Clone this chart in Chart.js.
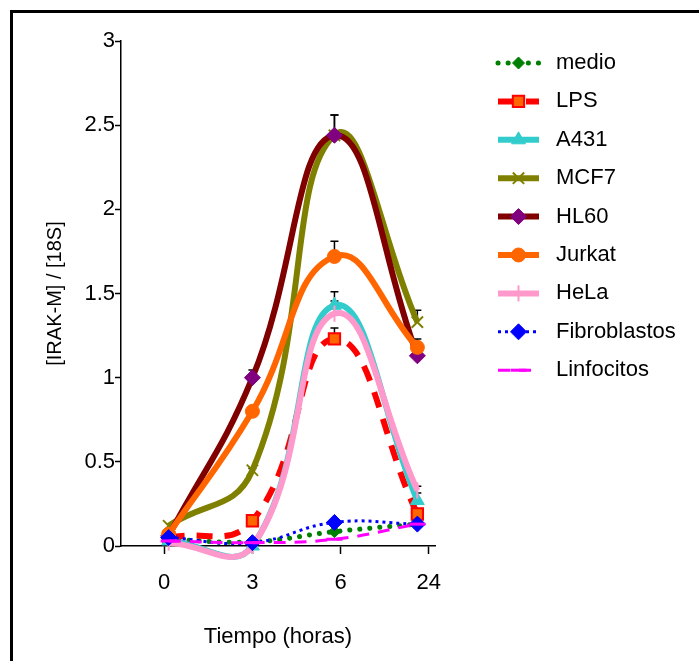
<!DOCTYPE html>
<html>
<head>
<meta charset="utf-8">
<script src="https://cdn.jsdelivr.net/npm/chart.js@4.4.1/dist/chart.umd.min.js"></script>
<style>
  html, body { margin: 0; padding: 0; background: #fff; overflow: hidden; }
  #frame { position: absolute; left: 10px; top: 10px; width: 760px; height: 720px; border: 3px solid #000; }
  #c { position: absolute; left: 0; top: 0; }
</style>
</head>
<body>
<div id="frame"></div>
<canvas id="c" width="699" height="661"></canvas>
<script>
// sampling times shown under the x axis
const timeLabels = ['0', '3', '6', '24'];
// where each sampling time sits on the x axis (points are a bit off the ticks in the original)
const timePos = [0.05, 1.0, 1.93, 2.87];

const seriesNames = ['medio', 'LPS', 'A431', 'MCF7', 'HL60', 'Jurkat', 'HeLa', 'Fibroblastos', 'Linfocitos'];

// [IRAK-M] / [18S] at 0, 3, 6, 24 h
const medio        = [0.04, 0.025, 0.085, 0.13];
const lps          = [0.05, 0.15, 1.23, 0.19];
const a431         = [0.03, 0.0, 1.43, 0.27];
const mcf7         = [0.12, 0.45, 2.44, 1.33];
const hl60         = [0.06, 1.0, 2.44, 1.13];
const jurkat       = [0.07, 0.8, 1.72, 1.18];
const hela         = [0.02, 0.0, 1.38, 0.33];
const fibroblastos = [0.05, 0.02, 0.14, 0.13];
const linfocitos   = [0.03, 0.02, 0.04, 0.13];

// top of each error bar, null where none is drawn
const medioErr        = [null, null, null, null];
const lpsErr          = [null, null, 1.295, null];
const a431Err         = [null, null, 1.51, 0.315];
const mcf7Err         = [null, 0.46, 2.56, 1.40];
const hl60Err         = [null, 1.045, 2.56, null];
const jurkatErr       = [null, null, 1.81, 1.23];
const helaErr         = [null, null, 1.455, 0.355];
const fibroblastosErr = [null, null, null, null];
const linfocitosErr   = [null, null, null, null];

const seriesValues = [medio, lps, a431, mcf7, hl60, jurkat, hela, fibroblastos, linfocitos];
const seriesErr = [medioErr, lpsErr, a431Err, mcf7Err, hl60Err, jurkatErr, helaErr, fibroblastosErr, linfocitosErr];

// line + marker look of every series
const styles = [
  { color: '#008000', fill: '#008000', width: 5, dash: [0.1, 10], cap: 'round', point: 'rectRot', radius: 6, pbw: 1 },
  { color: '#ff0000', fill: '#ff6600', width: 6, dash: [16, 12], point: 'rect', radius: 8, pbw: 2 },
  { color: '#33cccc', fill: '#33cccc', width: 6, dash: [], point: 'triangle', radius: 8, pbw: 1 },
  { color: '#808000', fill: '#808000', width: 6, dash: [], point: 'crossRot', radius: 8, pbw: 2 },
  { color: '#800000', fill: '#800080', width: 6, dash: [], point: 'rectRot', radius: 8, pbw: 1, pcolor: '#800080' },
  { color: '#ff6600', fill: '#ff6600', width: 6, dash: [], point: 'circle', radius: 7, pbw: 1 },
  { color: '#ff99cc', fill: '#ff99cc', width: 6, dash: [], point: 'line', radius: 8, rot: 90, pbw: 2 },
  { color: '#0000ff', fill: '#0000ff', width: 3, dash: [3, 4], point: 'rectRot', radius: 8, pbw: 1 },
  { color: '#ff00ff', fill: '#ff00ff', width: 3, dash: [12, 9], point: 'line', radius: 8, pbw: 3 }
];

const FONT = '"Liberation Sans", Arial, Helvetica, sans-serif';

const datasets = seriesNames.map((name, i) => {
  const s = styles[i];
  return {
    label: name,
    data: seriesValues[i].map((v, j) => ({ x: timePos[j], y: v })),
    borderColor: s.color,
    backgroundColor: s.fill,
    borderWidth: s.width,
    borderDash: s.dash,
    borderCapStyle: s.cap || 'butt',
    pointStyle: s.point,
    pointRadius: s.radius,
    pointHoverRadius: s.radius,
    pointRotation: s.rot || 0,
    pointBorderWidth: s.pbw,
    pointBorderColor: s.pcolor || s.color,
    pointBackgroundColor: s.fill,
    tension: 0.45,
    capBezierPoints: false,
    clip: false,
    order: seriesNames.length - i   // later series on top, like the original
  };
});

// black error bar caps, drawn under the lines
const errorBars = {
  id: 'errorBars',
  beforeDatasetsDraw(chart) {
    const ctx = chart.ctx;
    const yScale = chart.scales.y;
    ctx.save();
    ctx.strokeStyle = '#000';
    ctx.lineWidth = 1.5;
    chart.data.datasets.forEach((ds, i) => {
      const meta = chart.getDatasetMeta(i);
      seriesErr[i].forEach((top, j) => {
        if (top == null) return;
        const pt = meta.data[j];
        const yTop = yScale.getPixelForValue(top);
        ctx.beginPath();
        ctx.moveTo(pt.x, pt.y);
        ctx.lineTo(pt.x, yTop);
        ctx.moveTo(pt.x - 4, yTop);
        ctx.lineTo(pt.x + 4, yTop);
        ctx.stroke();
      });
    });
    ctx.restore();
  }
};

// legend on the right: line sample with marker, then the name
const sideLegend = {
  id: 'sideLegend',
  afterDraw(chart) {
    const ctx = chart.ctx;
    const x0 = chart.chartArea.right + 63;
    const len = 41;
    const y0 = chart.chartArea.top + 22;
    const step = 38.4;
    chart.data.datasets.forEach((ds, i) => {
      const yy = y0 + i * step;
      ctx.save();
      ctx.strokeStyle = ds.borderColor;
      ctx.lineWidth = ds.borderWidth;
      ctx.setLineDash(ds.borderDash);
      ctx.lineCap = ds.borderCapStyle;
      ctx.beginPath();
      ctx.moveTo(x0, yy);
      ctx.lineTo(x0 + len, yy);
      ctx.stroke();
      ctx.setLineDash([]);
      ctx.lineCap = 'butt';
      ctx.fillStyle = ds.pointBackgroundColor;
      ctx.strokeStyle = ds.pointBorderColor;
      ctx.lineWidth = ds.pointBorderWidth;
      Chart.helpers.drawPoint(ctx, {
        pointStyle: ds.pointStyle,
        radius: ds.pointRadius,
        rotation: ds.pointRotation,
        borderWidth: ds.pointBorderWidth
      }, x0 + len / 2, yy);
      ctx.fillStyle = '#000';
      ctx.font = '22px ' + FONT;
      ctx.textBaseline = 'middle';
      ctx.textAlign = 'left';
      ctx.fillText(ds.label, x0 + 58, yy);
      ctx.restore();
    });
  }
};

const ctx = document.getElementById('c').getContext('2d');
new Chart(ctx, {
  type: 'line',
  data: { datasets: datasets },
  plugins: [errorBars, sideLegend],
  options: {
    responsive: false,
    animation: false,
    devicePixelRatio: 1,
    layout: { padding: { left: 0, right: 264, top: 41, bottom: 0 } },
    plugins: {
      legend: { display: false },
      tooltip: { enabled: false }
    },
    scales: {
      x: {
        type: 'linear',
        min: -0.49,
        max: 3.07,
        afterBuildTicks: (scale) => { scale.ticks = timeLabels.map((t, k) => ({ value: k })); },
        afterFit: (scale) => { scale.height = 115; },
        ticks: {
          callback: (v) => timeLabels[v],
          color: '#000',
          font: { family: FONT, size: 22 },
          padding: 16,
          maxRotation: 0,
          autoSkip: false
        },
        grid: { drawOnChartArea: false, tickLength: 8, tickWidth: 1.5, tickColor: '#000' },
        border: { color: '#000', width: 1.5 },
        title: {
          display: true,
          text: 'Tiempo (horas)',
          color: '#000',
          font: { family: FONT, size: 22 },
          padding: { top: 0, bottom: 11 }
        }
      },
      y: {
        min: 0,
        max: 3,
        afterFit: (scale) => { scale.width = 121; },
        ticks: {
          stepSize: 0.5,
          callback: (v) => String(v),
          color: '#000',
          font: { family: FONT, size: 22 },
          padding: 0
        },
        grid: { drawOnChartArea: false, tickLength: 6, tickWidth: 1.5, tickColor: '#000' },
        border: { color: '#000', width: 1.5 },
        title: {
          display: true,
          text: '[IRAK-M] / [18S]',
          color: '#000',
          font: { family: FONT, size: 20 },
          padding: { top: 43, bottom: 0 }
        }
      }
    }
  }
});
</script>
</body>
</html>
